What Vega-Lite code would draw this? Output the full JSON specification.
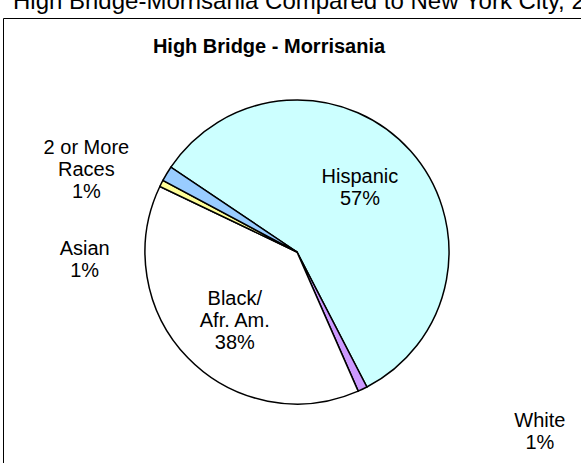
{
  "$schema": "https://vega.github.io/schema/vega-lite/v6.json",
  "autosize": "none",
  "padding": {"left": 3, "top": 18, "right": -10, "bottom": -23},
  "background": "white",
  "width": 588,
  "height": 468,
  "view": {"stroke": "black", "strokeWidth": 1, "fill": "white"},
  "title": {
    "text": "High Bridge-Morrisania Compared to New York City, 2000",
    "anchor": "start",
    "dx": 10,
    "offset": 4,
    "font": "Liberation Sans",
    "fontSize": 24,
    "fontWeight": "normal",
    "color": "black"
  },
  "data": {
    "values": [
      {"group": "Hispanic", "share": 57.4, "order": 1, "label": "Hispanic\n57%"},
      {"group": "White", "share": 1.0, "order": 2, "label": "White\n1%"},
      {"group": "Black/ Afr. Am.", "share": 38.3, "order": 3, "label": "Black/\nAfr. Am.\n38%"},
      {"group": "Asian", "share": 0.7, "order": 4, "label": "Asian\n1%"},
      {"group": "2 or More Races", "share": 1.6, "order": 5, "label": "2 or More\nRaces\n1%"}
    ]
  },
  "layer": [
    {
      "data": {"values": [{"heading": "High Bridge - Morrisania"}]},
      "mark": {"type": "text", "dx": -28, "dy": -205, "font": "Liberation Sans", "fontSize": 20, "fontWeight": "bold", "color": "black"},
      "encoding": {"text": {"field": "heading", "type": "nominal"}}
    },
    {
      "encoding": {
        "theta": {"field": "share", "type": "quantitative", "stack": true, "scale": {"range": [-0.979, 5.304]}},
        "order": {"field": "order", "type": "quantitative"},
        "detail": {"field": "group", "type": "nominal"}
      },
      "layer": [
        {
          "mark": {"type": "arc", "outerRadius": 152, "stroke": "black", "strokeWidth": 1.5},
          "encoding": {
            "color": {
              "field": "group",
              "type": "nominal",
              "scale": {
                "domain": ["Hispanic", "White", "Black/ Afr. Am.", "Asian", "2 or More Races"],
                "range": ["#CCFFFF", "#CC99FF", "#FFFFFF", "#FFFF99", "#99CCFF"]
              },
              "legend": null
            }
          }
        },
        {
          "mark": {"type": "text", "radius": 95, "dx": -8, "dy": -12, "font": "Liberation Sans", "fontSize": 20, "lineBreak": "\n", "lineHeight": 22, "color": "black"},
          "encoding": {
            "text": {"field": "label", "type": "nominal", "condition": {"test": "datum.group !== 'Hispanic'", "value": ""}}
          }
        },
        {
          "mark": {"type": "text", "radius": 95, "dx": 6, "dy": -19, "font": "Liberation Sans", "fontSize": 20, "lineBreak": "\n", "lineHeight": 22, "color": "black"},
          "encoding": {
            "text": {"field": "label", "type": "nominal", "condition": {"test": "datum.group !== 'Black/ Afr. Am.'", "value": ""}}
          }
        },
        {
          "mark": {"type": "text", "radius": 220, "dx": -22, "dy": 9, "font": "Liberation Sans", "fontSize": 20, "lineBreak": "\n", "lineHeight": 22, "color": "black"},
          "encoding": {
            "text": {"field": "label", "type": "nominal", "condition": {"test": "datum.group !== '2 or More Races'", "value": ""}}
          }
        },
        {
          "mark": {"type": "text", "radius": 220, "dx": -16, "dy": 96, "font": "Liberation Sans", "fontSize": 20, "lineBreak": "\n", "lineHeight": 22, "color": "black"},
          "encoding": {
            "text": {"field": "label", "type": "nominal", "condition": {"test": "datum.group !== 'Asian'", "value": ""}}
          }
        },
        {
          "mark": {"type": "text", "radius": 220, "dx": 148, "dy": -29, "font": "Liberation Sans", "fontSize": 20, "lineBreak": "\n", "lineHeight": 22, "color": "black"},
          "encoding": {
            "text": {"field": "label", "type": "nominal", "condition": {"test": "datum.group !== 'White'", "value": ""}}
          }
        }
      ]
    }
  ]
}
